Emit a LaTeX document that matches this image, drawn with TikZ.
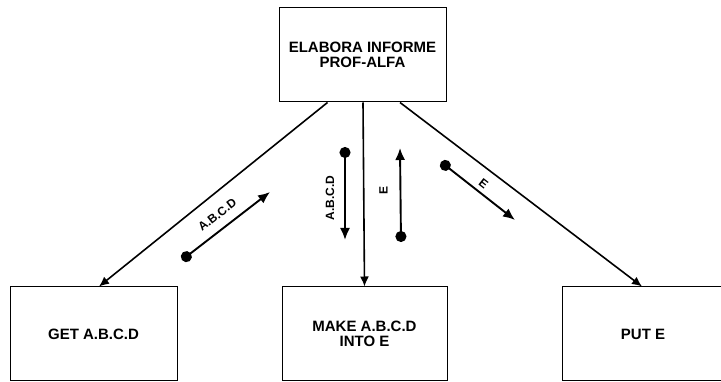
\documentclass[tikz,border=0pt]{standalone}
\usepackage{fontspec}
\setsansfont{Liberation Sans}
\usetikzlibrary{positioning,calc,arrows.meta}
\tikzset{
box/.style={
  draw, line width=1pt,
  rectangle, minimum width=167pt, minimum height=94pt,
  align=center, inner sep=0pt,
  font=\sffamily\bfseries\fontsize{15}{14.5}\selectfont
  },
flow/.style={-{Latex[length=10pt,width=9pt]}, line width=1.6pt},
couple/.style={{Circle[length=11pt]}-{Latex[length=12pt,width=10pt]}, line width=1.9pt},
tag/.style={font=\sffamily\bfseries\fontsize{12}{12}\selectfont, inner sep=1pt},
%frame/.style={draw=gray}
}

\begin{document}
\begin{tikzpicture}[x=1pt,y=-1pt]
    \useasboundingbox (0,0) rectangle (721,382);
    % modules
    \node [box] (elab) at (362.5,55) {ELABORA INFORME\\PROF-ALFA};
    \node [box] (getabcd) at (93.5,334) {GET A.B.C.D};
    \node [box, minimum width=165pt] (makee) at (364.5,334) {MAKE A.B.C.D\\INTO E};
    \node [box, minimum width=162pt] (pute) at (643,334) {PUT E};
    % calls
    \draw [flow] ($(elab.south)+(-35,0)$) -- ($(getabcd.north)+(5.5,0)$);
    \draw [flow] ($(elab.south)+(0.5,0)$) -- (makee.north);
    \draw [flow] ($(elab.south)+(37.5,0)$) -- ($(pute.north)+(-1,0)$);
    % couples
    \coordinate (abcdin) at (182,260);
    \coordinate (abcdout) at (270,192);
    \coordinate (abcddn) at (345,147);
    \coordinate (abcdend) at (345,240);
    \coordinate (eup) at (401,242);
    \coordinate (eend) at (400,148);
    \coordinate (eout) at (441,162);
    \coordinate (eput) at (515,220);
    \draw [couple] (abcdin) -- node [tag, sloped, above=8pt] (abcdlbl) {A.B.C.D} (abcdout);
    \draw [couple] (abcddn) -- (abcdend);
    \node [tag, rotate=90] (abcdvlbl) at ($(abcddn)!0.55!(abcdend)+(-15,0)$) {A.B.C.D};
    \draw [couple] (eup) -- (eend);
    \node [tag, rotate=90] (evlbl) at ($(eup)!0.55!(eend)+(-17,0)$) {E};
    \draw [couple] (eout) -- node [tag, sloped, above=3pt] (elbl) {E} (eput);
\end{tikzpicture}
\end{document}
